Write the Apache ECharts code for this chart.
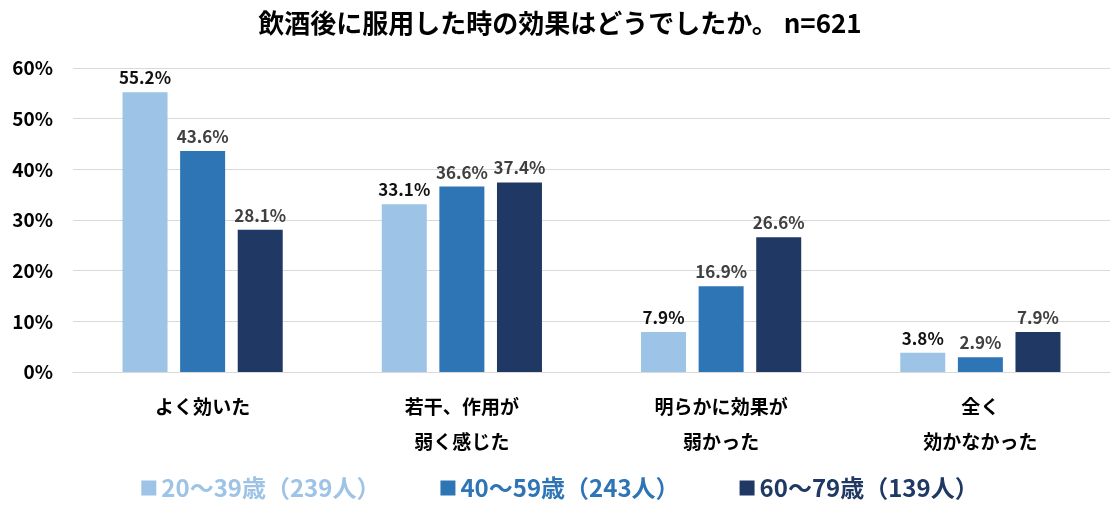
<!DOCTYPE html>
<html><head><meta charset="utf-8">
<script src="https://cdn.jsdelivr.net/npm/echarts@6/dist/echarts.min.js"></script>
<style>html,body{margin:0;padding:0;background:#fff}#c{width:1120px;height:509px}</style>
</head><body><div id="c"></div>
<script>
const categories = ['よく効いた', '若干、作用が\n弱く感じた', '明らかに効果が\n弱かった', '全く\n効かなかった'];
const seriesNames = ['20～39歳（239人）', '40～59歳（243人）', '60～79歳（139人）'];
const s1 = [55.2, 33.1, 7.9, 3.8];
const s2 = [43.6, 36.6, 16.9, 2.9];
const s3 = [28.1, 37.4, 26.6, 7.9];
const colors = ['#9DC3E6', '#2E75B6', '#203864'];
const labelColors = ['#111111', '#404040', '#404040'];
const font = '"Noto Sans CJK JP", "Noto Sans", sans-serif';
const chart = echarts.init(document.getElementById('c'));
const data = [s1, s2, s3];
chart.setOption({
  animation: false,
  textStyle: { fontFamily: font },
  title: { text: '飲酒後に服用した時の効果はどうでしたか。 n=621', left: 'center', top: 5,
    textStyle: { fontFamily: font, fontSize: 26, fontWeight: 'bold', color: '#000' } },
  grid: { left: 73, right: 10, top: 68, bottom: 137 },
  legend: { bottom: 4, left: 'center', itemWidth: 15, itemHeight: 15, itemGap: 60, icon: 'rect',
    data: seriesNames.map((n, i) => ({ name: n, textStyle: { color: colors[i] } })),
    textStyle: { fontFamily: font, fontSize: 24, fontWeight: 'bold' } },
  xAxis: { type: 'category', data: categories,
    axisLine: { lineStyle: { color: '#d9d9d9' } }, axisTick: { show: false },
    axisLabel: { fontFamily: font, fontSize: 19, fontWeight: 'bold', color: '#000', margin: 17, lineHeight: 35, interval: 0 } },
  yAxis: { type: 'value', min: 0, max: 60, interval: 10,
    axisLabel: { formatter: '{value}%', fontFamily: font, fontSize: 19, fontWeight: 'bold', color: '#000', margin: 20 },
    splitLine: { lineStyle: { color: '#d9d9d9' } } },
  series: data.map((d, i) => ({
    name: seriesNames[i], type: 'bar', data: d, barWidth: 45, barGap: '28%',
    itemStyle: { color: colors[i] },
    label: { show: true, position: 'top', distance: 6, formatter: p => p.value.toFixed(1) + '%',
      fontFamily: font, fontSize: 17, fontWeight: 'bold', color: labelColors[i] }
  }))
});
</script></body></html>
